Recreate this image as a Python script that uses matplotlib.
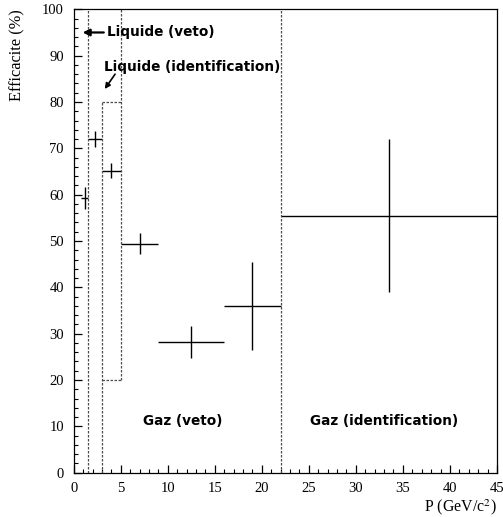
import matplotlib
matplotlib.use("Agg")
import matplotlib.pyplot as plt
from matplotlib.ticker import MultipleLocator

# efficiency vs momentum
p = [1.15, 2.25, 4.0, 7.0, 12.5, 19.0, 33.5]
p_err = [0.35, 0.75, 1.0, 2.0, 3.5, 3.0, 11.5]
eff = [59.2, 72.0, 65.2, 49.4, 28.2, 36.0, 55.5]
eff_err = [2.4, 1.7, 1.7, 2.3, 3.5, 9.5, 16.5]

# region boundaries
liq_veto = 1.5
liq_id_lo, liq_id_hi = 3.0, 5.0
liq_id_ymin, liq_id_ymax = 20.0, 80.0
gas_split = 22.0

plt.rcParams['font.family'] = 'Liberation Serif'
plt.rcParams['mathtext.fontset'] = 'stix'

fig = plt.figure(figsize=(5.03, 5.17), dpi=100)
ax = fig.add_axes([0.1465, 0.0857, 0.8415, 0.8963])

ax.errorbar(p, eff, xerr=p_err, yerr=eff_err, fmt='none',
            ecolor='black', elinewidth=1.0, capsize=0)

dash = dict(color='0.3', lw=0.9, linestyle=(0, (2, 1.2)))
ax.plot([liq_veto, liq_veto], [0, 100], **dash)
ax.plot([liq_id_lo, liq_id_lo], [0, liq_id_ymax], **dash)
ax.plot([liq_id_hi, liq_id_hi], [liq_id_ymin, 100], **dash)
ax.plot([liq_id_lo, liq_id_hi], [liq_id_ymax, liq_id_ymax], **dash)
ax.plot([liq_id_lo, liq_id_hi], [liq_id_ymin, liq_id_ymin], **dash)
ax.plot([gas_split, gas_split], [0, 100], **dash)

lbl = dict(family='DejaVu Sans', fontweight='bold', fontsize=9.8)
ax.text(3.5, 95, 'Liquide (veto)', ha='left', va='center', **lbl)
ax.annotate('', xy=(0.95, 95), xytext=(3.2, 95),
            arrowprops=dict(arrowstyle='-|>', color='black', lw=1.6,
                            mutation_scale=10, shrinkA=0, shrinkB=0))
ax.text(3.2, 87.6, 'Liquide (identification)', ha='left', va='center', **lbl)
ax.annotate('', xy=(3.3, 82.8), xytext=(4.4, 86.0),
            arrowprops=dict(arrowstyle='-|>', color='black', lw=1.2,
                            mutation_scale=8, shrinkA=0, shrinkB=0))
ax.text(11.6, 11.2, 'Gaz (veto)', ha='center', va='center', **lbl)
ax.text(33.0, 11.2, 'Gaz (identification)', ha='center', va='center', **lbl)

ax.set_xlim(0, 45)
ax.set_ylim(0, 100)
ax.xaxis.set_major_locator(MultipleLocator(5))
ax.xaxis.set_minor_locator(MultipleLocator(1))
ax.yaxis.set_major_locator(MultipleLocator(10))
ax.yaxis.set_minor_locator(MultipleLocator(2))
ax.tick_params(which='both', direction='in', labelsize=10.5, pad=7)
ax.tick_params(which='major', length=5.5, width=0.9)
ax.tick_params(which='minor', length=2.6, width=0.8)
for s in ax.spines.values():
    s.set_linewidth(0.9)

ax.set_xlabel('P (GeV/c$^2$)', fontsize=11.4, loc='right')
ax.xaxis.set_label_coords(1.0, -0.052)
ax.set_ylabel('Efficacite (%)', fontsize=11.8, loc='top')
ax.yaxis.set_label_coords(-0.114, 1.0)

fig.savefig('out.png', dpi=100)
